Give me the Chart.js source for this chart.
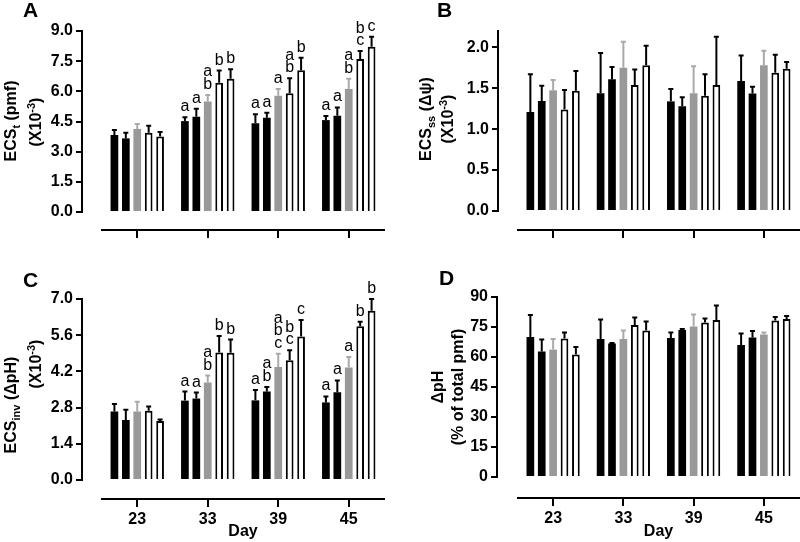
<!DOCTYPE html>
<html>
<head>
<meta charset="utf-8">
<script src="https://cdn.jsdelivr.net/npm/chart.js@4.4.0/dist/chart.umd.min.js"></script>
<style>
body { margin: 0; background: #fff; }
#fig { position: relative; width: 800px; height: 542px; font-family: "Liberation Sans", Arial, sans-serif; color: #000; }
#fig canvas { position: absolute; }
.ytitle { position: absolute; font-weight: bold; font-size: 16px; line-height: 18px; white-space: nowrap; transform: translate(-50%, -50%) rotate(-90deg); }
.ytitle sub, .ytitle sup { font-size: 11px; line-height: 0; }
.panel { position: absolute; font-weight: bold; font-size: 21px; line-height: 1; }
</style>
</head>
<body>
<div id="fig">
  <canvas id="chartA" width="400" height="271" style="left:0;top:0"></canvas>
  <canvas id="chartB" width="400" height="271" style="left:400px;top:0"></canvas>
  <canvas id="chartC" width="400" height="271" style="left:0;top:271px"></canvas>
  <canvas id="chartD" width="400" height="271" style="left:400px;top:271px"></canvas>

  <div class="panel" style="left:23px;top:-1px">A</div>
  <div class="panel" style="left:437px;top:-1px">B</div>
  <div class="panel" style="left:23px;top:269px">C</div>
  <div class="panel" style="left:439px;top:267px">D</div>

  <div class="ytitle" style="left:11px;top:121px">ECS<sub>t</sub> (pmf)</div>
  <div class="ytitle" style="left:36px;top:122px">(X10<sup>-3</sup>)</div>
  <div class="ytitle" style="left:426px;top:119px">ECS<sub>ss</sub> (Δψ)</div>
  <div class="ytitle" style="left:448px;top:119px">(X10<sup>-3</sup>)</div>
  <div class="ytitle" style="left:11px;top:405px">ECS<sub>inv</sub> (ΔpH)</div>
  <div class="ytitle" style="left:36px;top:364px">(X10<sup>-3</sup>)</div>
  <div class="ytitle" style="left:438px;top:387px">ΔpH</div>
  <div class="ytitle" style="left:458px;top:387px">(% of total pmf)</div>
</div>
<script>
const days = ['23', '33', '39', '45'];

// panel A: ECSt (pmf) x10^-3, one array per treatment, one value per day
const aMean1 = [3.83, 4.52, 4.41, 4.57];
const aMean2 = [3.66, 4.74, 4.69, 4.79];
const aMean3 = [4.13, 5.50, 5.78, 6.12];
const aMean4 = [3.94, 6.43, 5.90, 7.61];
const aMean5 = [3.75, 6.63, 7.05, 8.22];
const aErr1 = [0.25, 0.19, 0.45, 0.20];
const aErr2 = [0.28, 0.40, 0.25, 0.41];
const aErr3 = [0.25, 0.32, 0.34, 0.51];
const aErr4 = [0.35, 0.60, 0.75, 0.39];
const aErr5 = [0.23, 0.47, 0.62, 0.50];
const aLetters1 = ['', 'a', 'a', 'a'];
const aLetters2 = ['', 'a', 'a', 'a'];
const aLetters3 = ['', 'ab', 'a', 'ab'];
const aLetters4 = ['', 'b', 'ab', 'bc'];
const aLetters5 = ['', 'b', 'b', 'c'];

// panel B: ECSss (delta psi) x10^-3
const bMean1 = [1.21, 1.44, 1.34, 1.59];
const bMean2 = [1.345, 1.61, 1.28, 1.435];
const bMean3 = [1.475, 1.75, 1.44, 1.78];
const bMean4 = [1.24, 1.54, 1.41, 1.69];
const bMean5 = [1.47, 1.78, 1.54, 1.74];
const bErr1 = [0.46, 0.49, 0.15, 0.31];
const bErr2 = [0.185, 0.15, 0.11, 0.085];
const bErr3 = [0.125, 0.32, 0.33, 0.18];
const bErr4 = [0.24, 0.19, 0.26, 0.22];
const bErr5 = [0.24, 0.24, 0.59, 0.08];

// panel C: ECSinv (delta pH) x10^-3
const cMean1 = [2.65, 3.07, 3.08, 3.00];
const cMean2 = [2.32, 3.15, 3.42, 3.39];
const cMean3 = [2.65, 3.77, 4.37, 4.35];
const cMean4 = [2.68, 4.93, 4.63, 5.95];
const cMean5 = [2.28, 4.92, 5.55, 6.55];
const cErr1 = [0.29, 0.35, 0.40, 0.23];
const cErr2 = [0.40, 0.23, 0.18, 0.46];
const cErr3 = [0.38, 0.27, 0.51, 0.41];
const cErr4 = [0.16, 0.64, 0.39, 0.17];
const cErr5 = [0.06, 0.51, 0.64, 0.45];
const cLetters1 = ['', 'a', 'a', 'a'];
const cLetters2 = ['', 'a', 'ab', 'a'];
const cLetters3 = ['', 'ab', 'abc', 'a'];
const cLetters4 = ['', 'b', 'bc', 'b'];
const cLetters5 = ['', 'b', 'c', 'b'];

// panel D: delta pH (% of total pmf)
const dMean1 = [70.0, 69.0, 69.5, 66.0];
const dMean2 = [62.8, 66.7, 73.5, 69.8];
const dMean3 = [63.7, 69.0, 75.3, 71.2];
const dMean4 = [69.2, 76.0, 77.2, 78.3];
const dMean5 = [61.2, 73.3, 78.5, 79.0];
const dErr1 = [11.0, 9.8, 2.7, 5.7];
const dErr2 = [5.9, 0.3, 0.5, 3.2];
const dErr3 = [5.3, 4.3, 6.0, 1.1];
const dErr4 = [3.1, 3.7, 2.1, 1.7];
const dErr5 = [3.8, 4.5, 7.3, 1.5];

const aTicks = { max: 9, step: 1.5, digits: 1 };
const bTicks = { max: 2.2, step: 0.5, digits: 1 };
const cTicks = { max: 7, step: 1.4, digits: 1 };
const dTicks = { max: 90, step: 15, digits: 0 };

// bar styles for the five treatments
const fills = ['#000', '#000', '#999', '#fff', '#fff'];
const edges = ['#000', '#000', '#999', '#000', '#000'];
const edgeWidths = [0, 0, 0, 2, 2];
const whiskers = ['#000', '#000', '#aaa', '#000', '#000'];

Chart.defaults.font.family = '"Liberation Sans", Arial, sans-serif';
Chart.defaults.color = '#000';

// one-sided SEM whiskers plus significance letters above them
const errorBars = {
  id: 'errorBars',
  afterDatasetsDraw(chart) {
    const ctx = chart.ctx;
    const y = chart.scales.y;
    chart.data.datasets.forEach((ds, i) => {
      const meta = chart.getDatasetMeta(i);
      meta.data.forEach((bar, j) => {
        const top = y.getPixelForValue(ds.data[j] + ds.errors[j]);
        ctx.save();
        ctx.strokeStyle = ds.whisker;
        ctx.lineWidth = 2;
        ctx.beginPath();
        ctx.moveTo(bar.x, bar.y);
        ctx.lineTo(bar.x, top);
        ctx.moveTo(bar.x - 2.5, top);
        ctx.lineTo(bar.x + 2.5, top);
        ctx.stroke();
        const marks = ds.letters ? ds.letters[j] : '';
        ctx.fillStyle = '#000';
        ctx.font = '16px "Liberation Sans", Arial, sans-serif';
        ctx.textAlign = 'center';
        ctx.textBaseline = 'alphabetic';
        for (let k = 0; k < marks.length; k++) {
          ctx.fillText(marks[k], bar.x, top - 6 - (marks.length - 1 - k) * 12.5);
        }
        ctx.restore();
      });
    });
  }
};

function makePanel(id, means, errs, letters, yt, pad, gapX, xHeight, gapY, showX) {
  const datasets = means.map((m, i) => ({
    data: m,
    errors: errs[i],
    letters: letters ? letters[i] : null,
    whisker: whiskers[i],
    backgroundColor: fills[i],
    borderColor: edges[i],
    borderWidth: edgeWidths[i],
    categoryPercentage: 0.81,
    barPercentage: 0.675
  }));
  return new Chart(document.getElementById(id), {
    type: 'bar',
    data: { labels: days, datasets: datasets },
    plugins: [errorBars],
    options: {
      responsive: false,
      animation: false,
      layout: { padding: pad },
      plugins: { legend: { display: false }, tooltip: { enabled: false } },
      scales: {
        x: {
          axis: 'x', position: 'bottom', weight: 1, offset: true,
          grid: { drawOnChartArea: false, drawTicks: true, tickLength: 8, lineWidth: 2, color: '#000', offset: false },
          border: { display: true, color: '#000', width: 2 },
          ticks: { display: showX, maxRotation: 0, padding: 3, font: { size: 16, weight: 'bold' } },
          title: { display: showX, text: 'Day', font: { size: 16, weight: 'bold' }, padding: { top: 0, bottom: 1 } },
          afterFit: s => { s.height = xHeight; }
        },
        xs: {
          axis: 'x', type: 'linear', position: 'bottom', weight: 0,
          grid: { display: false }, border: { display: false }, ticks: { display: false },
          afterFit: s => { s.height = gapX; }
        },
        y: {
          axis: 'y', type: 'linear', position: 'left', weight: 1, min: 0, max: yt.max,
          grid: { drawOnChartArea: false, tickLength: 6, lineWidth: 2, color: '#000' },
          border: { color: '#000', width: 2 },
          ticks: {
            stepSize: yt.step, includeBounds: false, padding: 3, font: { size: 16, weight: 'bold' },
            callback: v => v.toFixed(yt.digits)
          },
          afterFit: s => { s.width = 40; }
        },
        ys: {
          axis: 'y', type: 'linear', position: 'left', weight: 0,
          grid: { display: false }, border: { display: false }, ticks: { display: false },
          afterFit: s => { s.width = gapY; }
        }
      }
    }
  });
}

makePanel('chartA',
  [aMean1, aMean2, aMean3, aMean4, aMean5],
  [aErr1, aErr2, aErr3, aErr4, aErr5],
  [aLetters1, aLetters2, aLetters3, aLetters4, aLetters5],
  aTicks, { top: 31, left: 42, right: 16, bottom: 0 }, 18, 41, 20, false);

makePanel('chartB',
  [bMean1, bMean2, bMean3, bMean4, bMean5],
  [bErr1, bErr2, bErr3, bErr4, bErr5],
  null,
  bTicks, { top: 31, left: 58, right: 1, bottom: 0 }, 19, 41, 20, false);

makePanel('chartC',
  [cMean1, cMean2, cMean3, cMean4, cMean5],
  [cErr1, cErr2, cErr3, cErr4, cErr5],
  [cLetters1, cLetters2, cLetters3, cLetters4, cLetters5],
  cTicks, { top: 28, left: 42, right: 16, bottom: 0 }, 19, 43, 20, true);

makePanel('chartD',
  [dMean1, dMean2, dMean3, dMean4, dMean5],
  [dErr1, dErr2, dErr3, dErr4, dErr5],
  null,
  dTicks, { top: 26, left: 57, right: 1, bottom: 0 }, 21, 44, 21, true);
</script>
</body>
</html>
